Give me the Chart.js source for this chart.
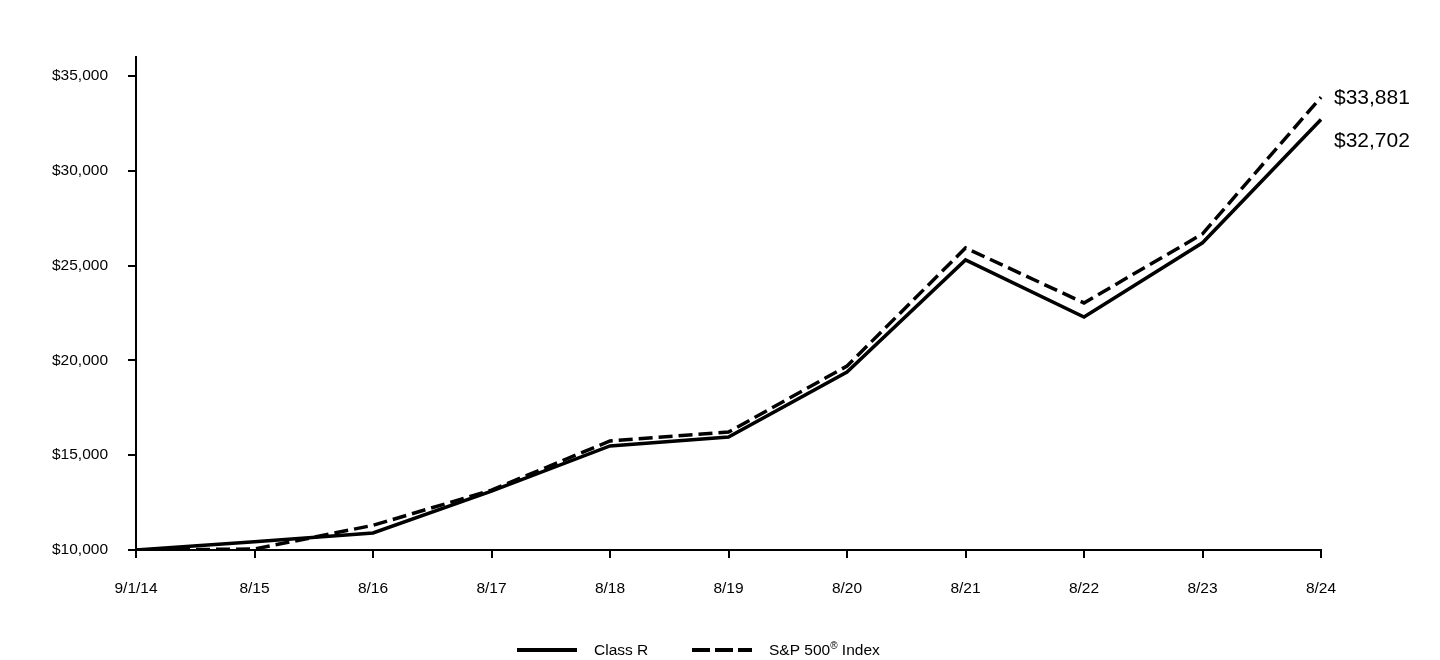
<!DOCTYPE html>
<html lang="en">
<head>
<meta charset="UTF-8">
<title>Growth of $10,000</title>
<script src="https://cdn.jsdelivr.net/npm/chart.js"></script>
<style>
  body { margin: 0; background: #fff; }
  #wrap { width: 1440px; height: 660px; position: relative; }
</style>
</head>
<body>
<div id="wrap"><canvas id="grafico"></canvas></div>
<script>
// data
const periodos = ["9/1/14", "8/15", "8/16", "8/17", "8/18", "8/19", "8/20", "8/21", "8/22", "8/23", "8/24"];
const classeR = [10000, 10440, 10900, 13100, 15490, 15960, 19390, 25300, 22290, 26200, 32702];
const sp500 = [10000, 10050, 11300, 13160, 15750, 16220, 19700, 25930, 23030, 26670, 33881];
const yTicks = [10000, 15000, 20000, 25000, 30000, 35000];

const fonte = "'Liberation Sans', Arial, sans-serif";

function dinheiro(v) {
    return "$" + v.toLocaleString("en-US");
}

// value labels at the end of each line
const rotulosFinais = {
    id: "rotulosFinais",
    afterDatasetsDraw(chart) {
        const ctx = chart.ctx;
        const desloc = [21, 0];
        ctx.save();
        ctx.font = "21px " + fonte;
        ctx.fillStyle = "#000";
        ctx.textBaseline = "middle";
        chart.data.datasets.forEach(function(ds, i) {
            const meta = chart.getDatasetMeta(i);
            const p = meta.data[meta.data.length - 1];
            ctx.fillText(dinheiro(ds.data[ds.data.length - 1]), p.x + 13, p.y + desloc[i] + 1);
        });
        ctx.restore();
    }
};

// legend with superscript mark
const legenda = {
    id: "legenda",
    afterDraw(chart) {
        const ctx = chart.ctx;
        const y = 650;
        ctx.save();
        ctx.strokeStyle = "#000";
        ctx.lineWidth = 4;
        ctx.beginPath(); ctx.moveTo(517, y); ctx.lineTo(577, y); ctx.stroke();
        ctx.setLineDash([18, 5]);
        ctx.beginPath(); ctx.moveTo(692, y); ctx.lineTo(752, y); ctx.stroke();
        ctx.setLineDash([]);
        ctx.fillStyle = "#000";
        ctx.textBaseline = "middle";
        ctx.font = "15.5px " + fonte;
        ctx.fillText("Class R", 594, y + 1);
        let x = 769;
        ctx.fillText("S&P 500", x, y + 1);
        x += ctx.measureText("S&P 500").width;
        ctx.font = "10px " + fonte;
        ctx.fillText("\u00AE", x, y - 4);
        x += ctx.measureText("\u00AE").width;
        ctx.font = "15.5px " + fonte;
        ctx.fillText(" Index", x, y + 1);
        ctx.restore();
    }
};

new Chart(document.getElementById("grafico"), {
    type: "line",
    data: {
        labels: periodos,
        datasets: [
            {
                label: "Class R",
                data: classeR,
                borderColor: "#000",
                borderWidth: 3.5,
                pointRadius: 0,
                tension: 0,
                order: 2
            },
            {
                label: "S&P 500\u00AE Index",
                data: sp500,
                borderColor: "#000",
                borderWidth: 3.5,
                borderDash: [14, 6],
                pointRadius: 0,
                tension: 0,
                order: 1
            }
        ]
    },
    options: {
        responsive: true,
        maintainAspectRatio: false,
        animation: false,
        layout: { padding: { top: 57, right: 119, left: 0, bottom: 0 } },
        plugins: {
            legend: { display: false },
            tooltip: { enabled: false }
        },
        scales: {
            x: {
                offset: false,
                afterFit: function(s) { s.height = 110; },
                grid: { drawOnChartArea: false, drawTicks: true, tickLength: 8, color: "#000", lineWidth: 2 },
                border: { display: true, color: "#000", width: 2 },
                ticks: { color: "#000", font: { family: fonte, size: 15.5 }, padding: 21, maxRotation: 0, autoSkip: false }
            },
            y: {
                min: 10000,
                max: 36000,
                afterFit: function(s) { s.width = 136; },
                afterBuildTicks: function(s) { s.ticks = yTicks.map(v => ({ value: v })); },
                grid: { drawOnChartArea: false, drawTicks: true, tickLength: 8, color: "#000", lineWidth: 2 },
                border: { display: true, color: "#000", width: 2 },
                ticks: { color: "#000", font: { family: fonte, size: 15.5 }, padding: 20, callback: v => dinheiro(v) }
            }
        }
    },
    plugins: [rotulosFinais, legenda]
});
</script>
</body>
</html>
